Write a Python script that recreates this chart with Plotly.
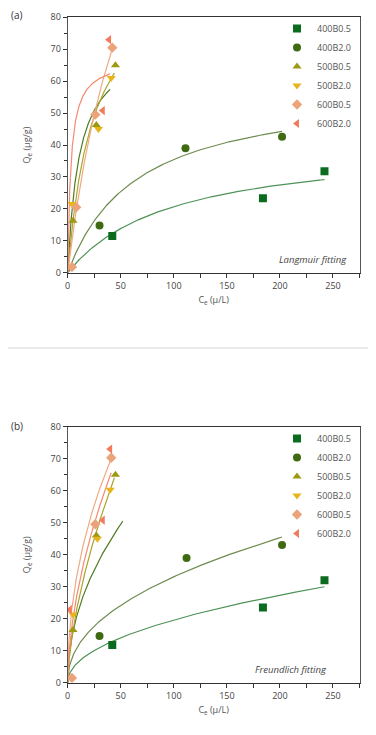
import numpy as np
import plotly.graph_objects as go

names = ["400B0.5", "400B2.0", "500B0.5", "500B2.0", "600B0.5", "600B2.0"]
marker_colors = ["#0b6b1f", "#3f6a12", "#9c9a12", "#e8b418", "#eba47a", "#f27b5e"]
line_colors = ["#4e9256", "#6f8c50", "#4f7a22", "#a9a62c", "#f0aa80", "#f48a70"]
symbols = ["square", "circle", "triangle-up", "triangle-down", "diamond", "triangle-left"]

# (a) Langmuir panel data
ce_a = [[42, 184, 242], [30, 111, 202], [5, 27, 45], [4, 29, 41], [4, 8, 26, 42], [33, 39]]
qe_a = [[11.5, 23.3, 31.8], [14.8, 39.0, 42.6], [16.3, 46.3, 65.0], [21.5, 45.0, 61.0],
        [1.8, 20.5, 49.5, 70.5], [50.8, 73.0]]
# Langmuir fit parameters (Qm, KL) and curve end
lang_qm = [41.0, 58.5, 73.2, 97.6, 180.0, 67.0]
lang_k = [0.0102, 0.0154, 0.091, 0.0405, 0.0152, 0.33]
lang_end = [242, 202, 40, 44, 42, 40]

# (b) Freundlich panel data
ce_b = [[42, 184, 242], [30, 112, 202], [5, 27, 45], [5, 28, 40], [4, 26, 41], [2, 33, 40]]
qe_b = [[11.8, 23.5, 32.0], [14.6, 39.0, 43.0], [16.5, 46.0, 65.0], [21.3, 45.0, 60.3],
        [1.5, 49.5, 70.3], [22.8, 50.8, 73.0]]
# Freundlich fit parameters (KF, 1/n) and curve end
fr_kf = [2.14, 4.11, 7.29, 6.04, 12.1, 8.14]
fr_inv_n = [0.481, 0.453, 0.49, 0.624, 0.473, 0.562]
fr_end = [242, 202, 52, 44, 41, 41]

# page body has an 8px margin: compensate so the page matches the 376x735 reference
OFF = 8
W, H = 376 - OFF, 735 - OFF
FONT = "Open Sans"

def px(x):
    return (x - OFF) / W

def py(y):
    return 1 - (y - OFF) / H

fig = go.Figure()

# fit curves
for i in range(6):
    c = np.linspace(0, lang_end[i], 300)
    q = lang_qm[i] * lang_k[i] * c / (1 + lang_k[i] * c)
    fig.add_trace(go.Scatter(x=c, y=q, mode="lines", line=dict(color=line_colors[i], width=1.2),
                             showlegend=False, hoverinfo="skip", xaxis="x", yaxis="y"))
for i in range(6):
    c = np.linspace(0, fr_end[i], 300)
    q = fr_kf[i] * np.power(c, fr_inv_n[i])
    fig.add_trace(go.Scatter(x=c, y=q, mode="lines", line=dict(color=line_colors[i], width=1.2),
                             showlegend=False, hoverinfo="skip", xaxis="x2", yaxis="y2"))

# data points
for i in range(6):
    fig.add_trace(go.Scatter(x=ce_a[i], y=qe_a[i], mode="markers", name=names[i],
                             marker=dict(symbol=symbols[i], color=marker_colors[i], size=8),
                             xaxis="x", yaxis="y", legend="legend"))
for i in range(6):
    fig.add_trace(go.Scatter(x=ce_b[i], y=qe_b[i], mode="markers", name=names[i],
                             marker=dict(symbol=symbols[i], color=marker_colors[i], size=8),
                             xaxis="x2", yaxis="y2", legend="legend2"))

xdom = [px(67.7), px(359.5)]
ydom_a = [py(272.7), py(17.3)]
ydom_b = [py(682.7), py(426.7)]

tickfont = dict(family=FONT, size=9, color="#444")
def xaxis(anchor, title):
    return dict(domain=xdom, anchor=anchor, range=[0, 275], tick0=0, dtick=50,
                ticks="outside", ticklen=4, tickcolor="#333", showline=True, linecolor="#333",
                linewidth=1, mirror=True, showgrid=False, zeroline=False, tickfont=tickfont,
                minor=dict(dtick=25, ticks="outside", ticklen=4, tickcolor="#333"),
                title=dict(text=title, font=dict(family=FONT, size=9, color="#555"), standoff=6),
                automargin=False)
def yaxis(anchor, dom, title):
    return dict(domain=dom, anchor=anchor, range=[0, 80], tick0=0, dtick=10,
                ticks="outside", ticklen=4, tickcolor="#333", showline=True, linecolor="#555",
                linewidth=1, mirror=True, showgrid=False, zeroline=False, tickfont=tickfont,
                minor=dict(dtick=5, ticks="outside", ticklen=3, tickcolor="#333"),
                title=dict(text=title, font=dict(family=FONT, size=9, color="#555"), standoff=18),
                automargin=False)

xt = "C<sub>e</sub> (μ/L)"
yt = "Q<sub>e</sub> (μg/g)"
legfont = dict(family=FONT, size=9, color="#555")
fig.update_layout(
    width=W, height=H, margin=dict(l=0, r=0, t=0, b=0),
    paper_bgcolor="white", plot_bgcolor="white",
    xaxis=xaxis("y", xt), yaxis=yaxis("x", ydom_a, yt),
    xaxis2=xaxis("y2", xt), yaxis2=yaxis("x2", ydom_b, yt),
    legend=dict(x=px(277), y=py(14), xanchor="left", yanchor="top", font=legfont,
                bgcolor="rgba(0,0,0,0)", itemwidth=30, tracegroupgap=0),
    legend2=dict(x=px(277), y=py(424), xanchor="left", yanchor="top", font=legfont,
                 bgcolor="rgba(0,0,0,0)", itemwidth=30, tracegroupgap=0),
    showlegend=True,
    shapes=[dict(type="line", xref="paper", yref="paper", x0=0, x1=1, y0=py(348), y1=py(348),
                 line=dict(color="#d4d4d4", width=1))],
    annotations=[
        dict(text="(a)", x=px(9), y=py(15), xref="paper", yref="paper", showarrow=False,
             xanchor="left", yanchor="middle", font=dict(family=FONT, size=10, color="#333")),
        dict(text="(b)", x=px(9), y=py(426), xref="paper", yref="paper", showarrow=False,
             xanchor="left", yanchor="middle", font=dict(family=FONT, size=10, color="#333")),
        dict(text="<i>Langmuir fitting</i>", x=px(349), y=py(259), xref="paper", yref="paper",
             showarrow=False, xanchor="right", yanchor="middle",
             font=dict(family=FONT, size=9.5, color="#444")),
        dict(text="<i>Freundlich fitting</i>", x=px(329), y=py(669), xref="paper", yref="paper",
             showarrow=False, xanchor="right", yanchor="middle",
             font=dict(family=FONT, size=9.5, color="#444")),
    ],
)

fig.write_html("out.html")
